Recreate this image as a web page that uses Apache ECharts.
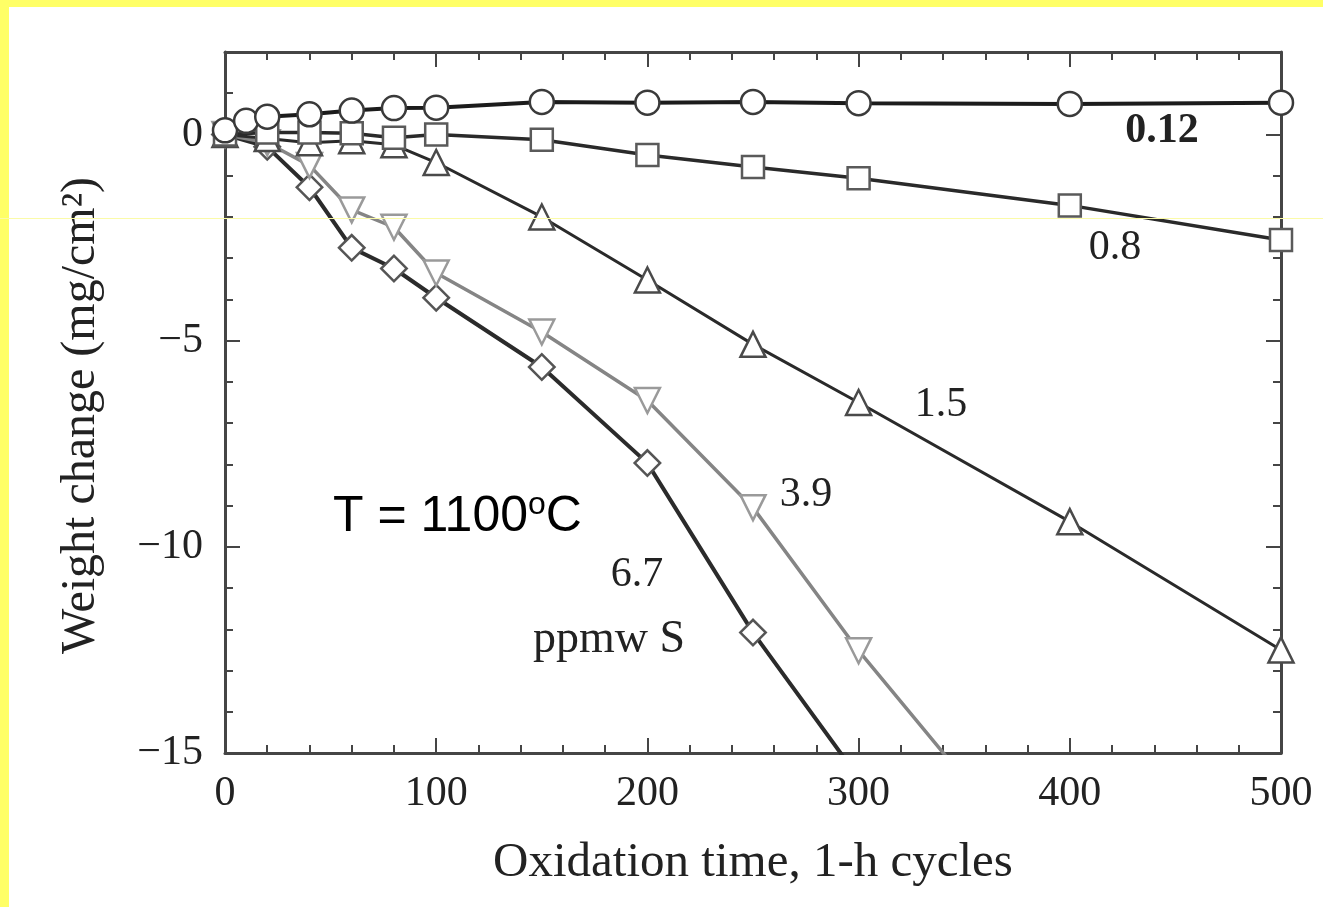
<!DOCTYPE html>
<html>
<head>
<meta charset="utf-8">
<script src="https://cdn.jsdelivr.net/npm/echarts@6/dist/echarts.min.js"></script>
<style>
  html, body { margin: 0; padding: 0; background: #ffffff; }
  #chart { width: 1323px; height: 907px; }
</style>
</head>
<body>
<div id="chart"></div>
<script>
// Cyclic oxidation at 1100 °C: weight change vs. number of 1-h cycles,
// one curve per sulfur content (ppmw S).
const cycles012 = [0, 10, 20, 40, 60, 80, 100, 150, 200, 250, 300, 400, 500];
const weight012 = [0.1, 0.33, 0.43, 0.49, 0.58, 0.64, 0.65, 0.79, 0.77, 0.79, 0.76, 0.74, 0.77];

const cycles08 = [0, 20, 40, 60, 80, 100, 150, 200, 250, 300, 400, 500];
const weight08 = [0, 0.05, 0.05, 0.03, -0.08, 0.0, -0.13, -0.5, -0.79, -1.06, -1.72, -2.56];

const cycles15 = [0, 20, 40, 60, 80, 100, 150, 200, 250, 300, 400, 500];
const weight15 = [0, -0.1, -0.2, -0.15, -0.25, -0.68, -2.0, -3.53, -5.09, -6.5, -9.39, -12.5];

const cycles39 = [0, 20, 40, 60, 80, 100, 150, 200, 250, 300, 400];
const weight39 = [0, -0.2, -0.75, -1.83, -2.25, -3.36, -4.79, -6.45, -9.05, -12.52, -18.7];

const cycles67 = [0, 20, 40, 60, 80, 100, 150, 200, 250, 300];
const weight67 = [0, -0.3, -1.28, -2.75, -3.25, -3.96, -5.64, -7.97, -12.08, -15.6];

// axis ranges
const xRange = [0, 500];
const xStep = 100;
const yRange = [-15, 2];
const yMajorStep = 5;
const yMinorStep = 1;

const seriesNames = ['0.12', '0.8', '1.5', '3.9', '6.7'];

const serif = '"Liberation Serif", "DejaVu Serif", "Times New Roman", serif';
const sans = '"Liberation Sans", Arial, sans-serif';
const ink = '#222222';
const axisInk = '#454545';

const pairs = (xs, ys) => xs.map((x, i) => [x, ys[i]]);
const yLabel = v => {
  if (v % yMajorStep !== 0 || v > 0) return '';
  return v < 0 ? '\u2212' + Math.abs(v) : String(v);
};

const chart = echarts.init(document.getElementById('chart'), null, { renderer: 'canvas' });

const baseX = {
  type: 'value', gridIndex: 0, min: xRange[0], max: xRange[1], interval: xStep,
  splitLine: { show: false },
  axisLine: { show: true, onZero: false, lineStyle: { color: axisInk, width: 3 } },
  axisTick: { show: true, inside: true, length: 15, lineStyle: { color: axisInk, width: 2 } },
  minorTick: { show: true, splitNumber: 5, length: 8, lineStyle: { color: axisInk, width: 2 } },
  minorSplitLine: { show: false }
};

const baseY = (step, tickLen, withLine) => ({
  type: 'value', gridIndex: 0, min: yRange[0], max: yRange[1], interval: step,
  splitLine: { show: false },
  axisLine: { show: withLine, onZero: false, lineStyle: { color: axisInk, width: 3 } },
  axisTick: { show: true, inside: true, length: tickLen, lineStyle: { color: axisInk, width: 2 } },
  axisLabel: { show: false }
});

const lineSeries = (name, data, opts) => ({
  name, type: 'line', xAxisIndex: 0, yAxisIndex: 0, data,
  clip: true, smooth: false, animation: false,
  symbol: opts.symbol, symbolSize: opts.size, symbolRotate: opts.rotate || 0,
  showAllSymbol: true,
  lineStyle: { color: opts.line, width: opts.width },
  itemStyle: { color: '#ffffff', borderColor: opts.border, borderWidth: opts.borderWidth || 2.5, opacity: 1 },
  emphasis: { disabled: true },
  z: opts.z
});

chart.setOption({
  animation: false,
  backgroundColor: '#ffffff',
  grid: { left: 225, right: 42, top: 52, bottom: 154, containLabel: false, outerBoundsMode: 'none' },
  xAxis: [
    Object.assign({}, baseX, {
      position: 'bottom',
      axisLabel: { show: true, margin: 20, fontSize: 42, fontFamily: serif, color: ink },
      name: 'Oxidation time, 1-h cycles',
      nameLocation: 'middle', nameGap: 86, nameMoveOverlap: false,
      nameTextStyle: { fontSize: 49, fontFamily: serif, color: ink }
    }),
    Object.assign({}, baseX, { position: 'top', axisLabel: { show: false } })
  ],
  yAxis: [
    Object.assign(baseY(yMinorStep, 8, true), {
      position: 'left',
      axisLabel: { show: true, margin: 22, fontSize: 42, fontFamily: serif, color: ink, formatter: yLabel },
      name: 'Weight change (mg/cm\u00B2)',
      nameLocation: 'middle', nameGap: 120, nameRotate: 90, nameMoveOverlap: false,
      nameTextStyle: { fontSize: 48, fontFamily: serif, color: ink, padding: [0, 26, 0, 0] }
    }),
    Object.assign(baseY(yMajorStep, 15, false), { position: 'left' }),
    Object.assign(baseY(yMinorStep, 8, true), { position: 'right' }),
    Object.assign(baseY(yMajorStep, 15, false), { position: 'right' })
  ],
  series: [
    lineSeries(seriesNames[4], pairs(cycles67, weight67),
      { symbol: 'rect', size: 18, rotate: 45, line: '#2b2b2b', width: 4, border: '#555555', z: 2 }),
    lineSeries(seriesNames[3], pairs(cycles39, weight39),
      { symbol: 'triangle', size: 25, rotate: 180, line: '#858585', width: 3.5, border: '#9a9a9a', z: 3 }),
    lineSeries(seriesNames[2], pairs(cycles15, weight15),
      { symbol: 'triangle', size: 25, line: '#2a2a2a', width: 3, border: '#4a4a4a', z: 4 }),
    lineSeries(seriesNames[1], pairs(cycles08, weight08),
      { symbol: 'rect', size: 22, line: '#2a2a2a', width: 3.5, border: '#5a5a5a', z: 5 }),
    lineSeries(seriesNames[0], pairs(cycles012, weight012),
      { symbol: 'circle', size: 24, line: '#1c1c1c', width: 4, border: '#3a3a3a', z: 6 })
  ],
  graphic: [
    // frame strips along the top and left edges, and a thin streak across the page
    { type: 'rect', left: 0, top: 0, shape: { x: 0, y: 0, width: 1323, height: 7 }, style: { fill: '#ffff66' }, z: 100 },
    { type: 'rect', left: 0, top: 0, shape: { x: 0, y: 0, width: 9, height: 907 }, style: { fill: '#ffff66' }, z: 100 },
    { type: 'rect', left: 0, top: 218, shape: { x: 0, y: 0, width: 1323, height: 1 }, style: { fill: '#fbfba8' }, z: 100 },

    // curve labels (ppmw S)
    { type: 'text', x: 1162, y: 131, z: 50,
      style: { text: seriesNames[0], fontSize: 42, fontWeight: 'bold', fontFamily: serif, fill: ink,
               align: 'center', verticalAlign: 'middle', textAlign: 'center', textVerticalAlign: 'middle' } },
    { type: 'text', x: 1115, y: 248, z: 50,
      style: { text: seriesNames[1], fontSize: 42, fontFamily: serif, fill: ink,
               align: 'center', verticalAlign: 'middle', textAlign: 'center', textVerticalAlign: 'middle' } },
    { type: 'text', x: 941, y: 405, z: 50,
      style: { text: seriesNames[2], fontSize: 42, fontFamily: serif, fill: ink,
               align: 'center', verticalAlign: 'middle', textAlign: 'center', textVerticalAlign: 'middle' } },
    { type: 'text', x: 806, y: 495, z: 50,
      style: { text: seriesNames[3], fontSize: 42, fontFamily: serif, fill: ink,
               align: 'center', verticalAlign: 'middle', textAlign: 'center', textVerticalAlign: 'middle' } },
    { type: 'text', x: 637, y: 575, z: 50,
      style: { text: seriesNames[4], fontSize: 42, fontFamily: serif, fill: ink,
               align: 'center', verticalAlign: 'middle', textAlign: 'center', textVerticalAlign: 'middle' } },
    { type: 'text', x: 609, y: 640, z: 50,
      style: { text: 'ppmw S', fontSize: 46, fontFamily: serif, fill: ink,
               align: 'center', verticalAlign: 'middle', textAlign: 'center', textVerticalAlign: 'middle' } },

    // test temperature
    { type: 'text', x: 333, y: 489, z: 50,
      style: {
        text: '{a|T = 1100}{s|o}{a|C}',
        align: 'left', verticalAlign: 'top', textAlign: 'left', textVerticalAlign: 'top',
        rich: {
          a: { fontSize: 50, lineHeight: 56, fontFamily: sans, fill: '#000000', color: '#000000' },
          s: { fontSize: 32, lineHeight: 32, fontFamily: sans, fill: '#000000', color: '#000000', verticalAlign: 'top' }
        }
      } }
  ]
});
</script>
</body>
</html>
